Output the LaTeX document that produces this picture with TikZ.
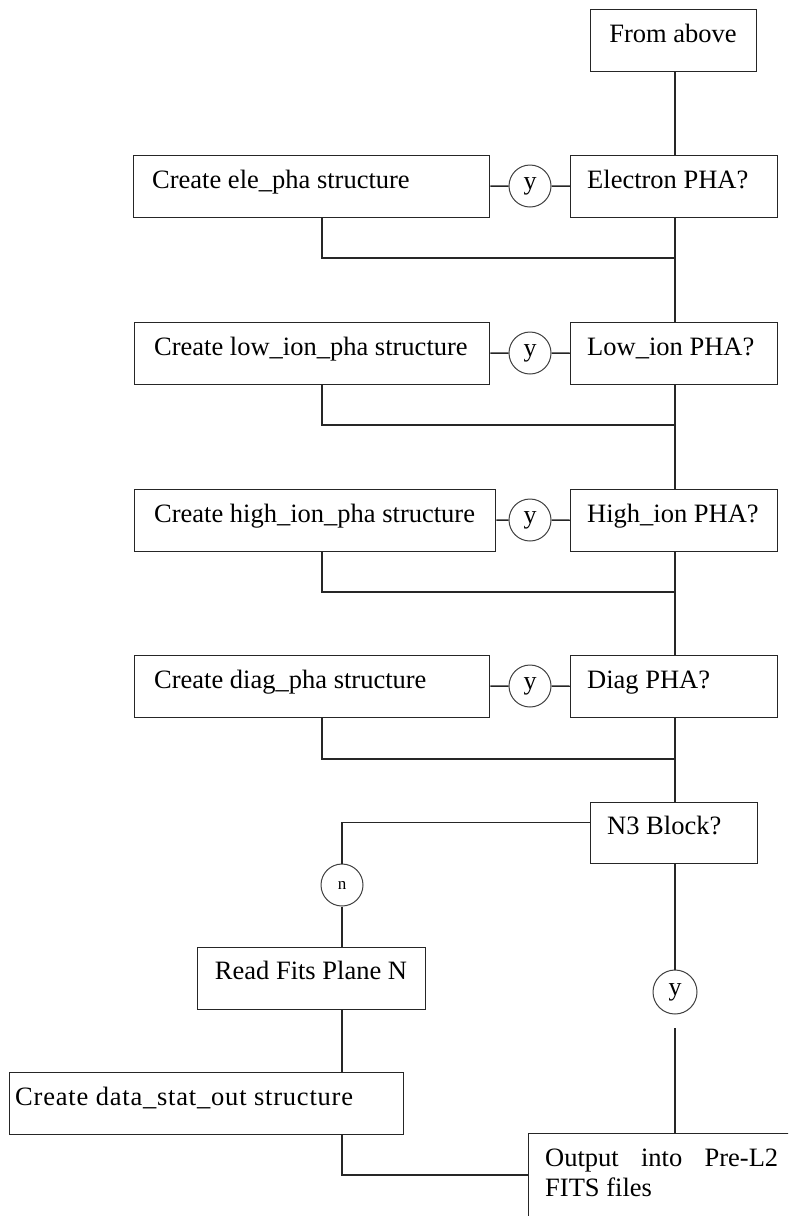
\documentclass[tikz,border=0pt]{standalone}
\usepackage{fontspec}
\setmainfont{Liberation Serif}
\begin{document}
\begin{tikzpicture}[x=1pt,y=-1pt,
  box/.style={draw=black!85, line width=1.4pt, minimum height=62pt, inner sep=0pt, anchor=north west},
  conn/.style={draw=black!85, line width=1.4pt},
  yesno/.style={circle, draw=black!75, line width=1pt, minimum size=42pt, inner sep=0pt, font=\fontsize{26}{28}\selectfont},
  txt/.style={anchor=base, inner sep=0pt, font=\fontsize{26.5}{30}\selectfont},
  txtl/.style={anchor=base west, inner sep=0pt, font=\fontsize{26.5}{30}\selectfont}]
\useasboundingbox (0,0) rectangle (788,1216);
\clip (0,0) rectangle (788,1216);
\fill[white] (0,0) rectangle (788,1216);
\coordinate (m) at (675,0);

% top
\node[box, minimum width=166pt] (above) at (590,9) {};
\node[txt] (tabove) at (673,42) {From above};

% row 1
\node[box, minimum width=356pt] (ele) at (133,155) {};
\node[txtl] (tele) at (152,188) {Create ele\_pha structure};
\node[box, minimum width=207pt] (elec) at (570,155) {};
\node[txtl] (telec) at (587,188) {Electron PHA?};
\node[yesno] (c1) at (530,186) {y};
\coordinate (j1) at (675,258);

% row 2
\node[box, minimum width=355pt] (low) at (134,322) {};
\node[txtl] (tlow) at (154,355) {Create low\_ion\_pha structure};
\node[box, minimum width=207pt] (lowq) at (570,322) {};
\node[txtl] (tlowq) at (587,355) {Low\_ion PHA?};
\node[yesno] (c2) at (530,353) {y};
\coordinate (j2) at (675,425);

% row 3
\node[box, minimum width=361pt] (high) at (134,489) {};
\node[txtl] (thigh) at (154,522) {Create high\_ion\_pha structure};
\node[box, minimum width=207pt] (highq) at (570,489) {};
\node[txtl] (thighq) at (587,522) {High\_ion PHA?};
\node[yesno] (c3) at (530,520) {y};
\coordinate (j3) at (675,592);

% row 4
\node[box, minimum width=355pt] (diag) at (134,655) {};
\node[txtl] (tdiag) at (154,688) {Create diag\_pha structure};
\node[box, minimum width=207pt] (diagq) at (570,655) {};
\node[txtl] (tdiagq) at (587,688) {Diag PHA?};
\node[yesno] (c4) at (530,686) {y};
\coordinate (j4) at (675,759);

% N3 block
\node[box, minimum width=167pt, minimum height=61pt] (n3) at (590,802) {};
\node[txtl] (tn3) at (607,834) {N3 Block?};
\node[yesno, font=\fontsize{17}{19}\selectfont] (nc) at (342,885) {n};
\node[box, minimum width=228pt] (read) at (197,947) {};
\node[txt] (tread) at (311,979) {Read Fits Plane N};
\node[yesno, minimum size=44pt] (yc) at (675,992) {y};
\coordinate (yg) at (675,1028);
\node[box, minimum width=394pt] (data) at (9,1072) {};
\node[txtl] (tdata) at (15,1105) {\addfontfeatures{LetterSpace=3}Create data\_stat\_out structure};
\node[box, minimum width=300pt, minimum height=130pt] (out) at (528,1133) {};
\node[txtl] (tout1) at (545,1166) {\hbox to 233pt{Output\hfill into\hfill Pre-L2}};
\node[txtl] (tout2) at (545,1196) {FITS files};
\coordinate (jo) at (528,1175);

% main spine
\draw[conn] (m |- above.south) -- (m |- elec.north);
\draw[conn] (m |- elec.south) -- (m |- lowq.north);
\draw[conn] (m |- lowq.south) -- (m |- highq.north);
\draw[conn] (m |- highq.south) -- (m |- diagq.north);
\draw[conn] (m |- diagq.south) -- (m |- n3.north);
\draw[conn] (m |- n3.south) -- (yc);
\draw[conn] (yg) -- (yg |- out.north);

% yes branches
\draw[conn] (ele) -- (c1) -- (elec);
\draw[conn] (low) -- (c2) -- (lowq);
\draw[conn] (high) -- (c3) -- (highq);
\draw[conn] (diag) -- (c4) -- (diagq);

% joins back to spine
\draw[conn] ([xshift=189pt]ele.south west) |- (j1);
\draw[conn] ([xshift=188pt]low.south west) |- (j2);
\draw[conn] ([xshift=188pt]high.south west) |- (j3);
\draw[conn] ([xshift=188pt]diag.south west) |- (j4);

% no branch
\draw[conn] ([yshift=10.5pt]n3.west) -| (nc);
\draw[conn] (nc) -- (nc |- read.north);
\draw[conn] (nc |- read.south) -- (nc |- data.north);
\draw[conn] (nc |- data.south) |- (jo);
\end{tikzpicture}
\end{document}
